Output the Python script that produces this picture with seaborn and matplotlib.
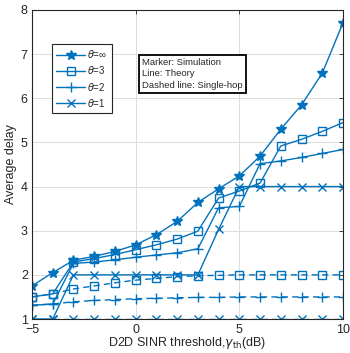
import matplotlib
matplotlib.use("Agg")
import matplotlib.pyplot as plt
import seaborn as sns
import pandas as pd

x_db = [-5, -4, -3, -2, -1, 0, 1, 2, 3, 4, 5, 6, 7, 8, 9, 10]
inf_theory = [1.75, 2.05, 2.33, 2.42, 2.53, 2.68, 2.91, 3.21, 3.64, 3.95, 4.24, 4.69, 5.30, 5.85, 6.57, 7.71]
th3_theory = [1.50, 1.57, 2.29, 2.37, 2.46, 2.57, 2.68, 2.81, 2.99, 3.74, 3.90, 4.08, 4.92, 5.07, 5.25, 5.45]
th2_theory = [1.31, 1.34, 2.26, 2.29, 2.34, 2.40, 2.45, 2.50, 2.59, 3.52, 3.55, 4.52, 4.58, 4.66, 4.75, 4.84]
th1_theory = [1.0, 1.0, 2.0, 2.0, 2.0, 2.0, 2.0, 2.0, 2.0, 3.03, 4.0, 4.0, 4.0, 4.0, 4.0, 4.0]
th3_single = [1.50, 1.57, 1.68, 1.75, 1.82, 1.88, 1.92, 1.96, 1.98, 1.99, 2.0, 2.0, 2.0, 2.0, 2.0, 2.0]
th2_single = [1.31, 1.34, 1.39, 1.42, 1.44, 1.46, 1.47, 1.48, 1.49, 1.49, 1.50, 1.50, 1.50, 1.50, 1.50, 1.50]
th1_single = [1.0] * 16

legend_labels = [r"$\theta$=∞", r"$\theta$=3", r"$\theta$=2", r"$\theta$=1"]
x_ticks = [-5, 0, 5, 10]
y_ticks = [1, 2, 3, 4, 5, 6, 7, 8]

sns.set_theme(style="white")
plt.rcParams['font.family'] = ['Liberation Sans', 'DejaVu Sans']
plt.rcParams['mathtext.fontset'] = 'dejavusans'

blue = "#0072BD"
fig = plt.figure(figsize=(3.5, 3.53), dpi=100)
ax = fig.add_axes([32/350, 1-319/353, 311/350, 309/353])

msize = {'*': 7.5, 's': 5.2, '+': 7, 'x': 6}

solid = [(inf_theory, '*', legend_labels[0]), (th3_theory, 's', legend_labels[1]),
         (th2_theory, '+', legend_labels[2]), (th1_theory, 'x', legend_labels[3])]
dashed = [(th3_single, 's'), (th2_single, '+'), (th1_single, 'x')]

for vals, mk in dashed:
    df = pd.DataFrame({"x": x_db, "y": vals})
    sns.lineplot(data=df, x="x", y="y", ax=ax, color=blue, linestyle=(0, (4.5, 3)),
                 marker=mk, markersize=msize[mk], markerfacecolor='none', markeredgecolor=blue,
                 markeredgewidth=1.0, linewidth=1.0, legend=False)

for vals, mk, lab in solid:
    df = pd.DataFrame({"x": x_db, "y": vals})
    fc = blue if mk == '*' else 'none'
    sns.lineplot(data=df, x="x", y="y", ax=ax, color=blue, linestyle='-',
                 marker=mk, markersize=msize[mk], markerfacecolor=fc, markeredgecolor=blue,
                 markeredgewidth=1.0, linewidth=1.0, label=lab)

ax.set_xlim(-5, 10)
ax.set_ylim(1, 8)
ax.set_xticks(x_ticks)
ax.set_yticks(y_ticks)
ax.grid(True, color="#dcdcdc", linewidth=0.7)
for s in ax.spines.values():
    s.set_color("#262626")
    s.set_linewidth(0.8)
ax.tick_params(direction='in', length=3, width=0.6, top=True, right=True,
               labelsize=9, colors="#262626")
ax.tick_params(axis='y', pad=3)
ax.tick_params(axis='x', pad=3.5)
ax.set_xlabel(r"D2D SINR threshold,$\gamma_{\mathrm{th}}$(dB)", fontsize=9, labelpad=-0.5, color="#262626")
ax.set_ylabel("Average delay", fontsize=9, labelpad=3, color="#262626")

leg = ax.legend(loc='upper left', bbox_to_anchor=(0.064, 0.89), fontsize=7,
                handlelength=3.0, handletextpad=0.2, borderpad=0.45, labelspacing=0.42,
                borderaxespad=0, frameon=True, fancybox=False, edgecolor="#262626", framealpha=1)
leg.get_frame().set_linewidth(0.8)

ax.text(0.355, 0.845, "Marker: Simulation\nLine: Theory\nDashed line: Single-hop",
        transform=ax.transAxes, fontsize=6.8, va='top', ha='left', linespacing=1.35,
        bbox=dict(boxstyle='square,pad=0.35', facecolor='white', edgecolor='black', linewidth=1.3))

fig.savefig("out.png", dpi=100)
